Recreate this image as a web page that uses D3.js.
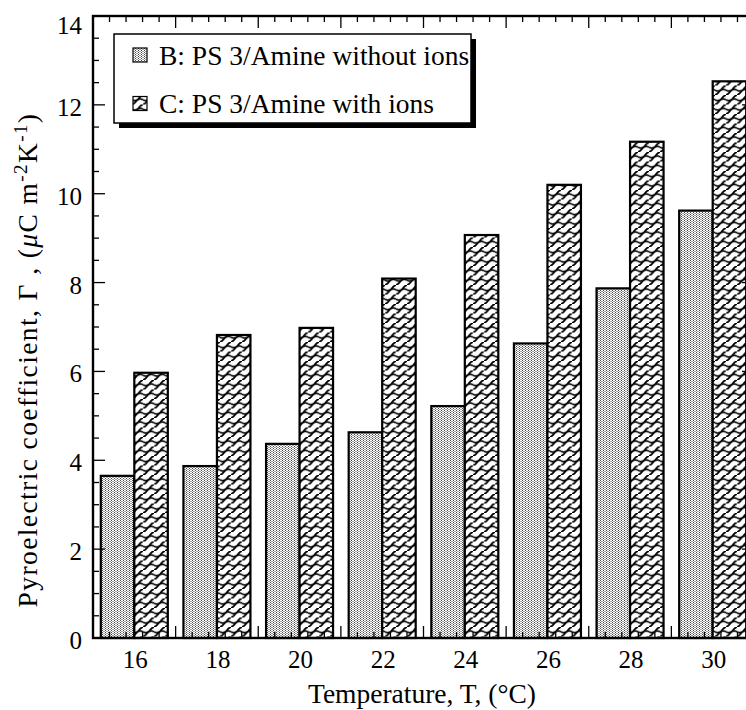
<!DOCTYPE html>
<html><head><meta charset="utf-8">
<script src="https://cdn.jsdelivr.net/npm/d3@7"></script>
<style>
html,body{margin:0;padding:0;background:#fff;overflow:hidden;}
text{font-family:"Liberation Serif","Times New Roman",serif;fill:#000;}
</style></head>
<body>
<script>
const categories = ["16","18","20","22","24","26","28","30"];
const seriesKeys = ["B","C"];
const seriesNames = ["B: PS 3/Amine without ions","C: PS 3/Amine with ions"];
const valuesB = [3.65,3.87,4.37,4.63,5.22,6.63,7.87,9.62];
const valuesC = [5.97,6.82,6.98,8.09,9.07,10.2,11.17,12.53];
const yTickValues = [0,2,4,6,8,10,12,14];
const xTitle = "Temperature, T, (°C)";

const W = 746, H = 710;
const plot = {left:93, top:16, right:754, bottom:638};

const svg = d3.select("body").append("svg").attr("width",W).attr("height",H);

const defs = svg.append("defs");
// stipple pattern for B
const pB = defs.append("pattern").attr("id","patB").attr("patternUnits","userSpaceOnUse")
  .attr("width",3).attr("height",2);
pB.append("rect").attr("width",3).attr("height",2).attr("fill","#fff");
pB.append("rect").attr("x",0).attr("y",0).attr("width",1).attr("height",1).attr("fill","#444");
pB.append("rect").attr("x",1.5).attr("y",1).attr("width",1).attr("height",1).attr("fill","#444");
// brick/weave pattern for C
const pC = defs.append("pattern").attr("id","patC").attr("patternUnits","userSpaceOnUse")
  .attr("width",11).attr("height",9.5);
pC.append("rect").attr("width",11).attr("height",9.5).attr("fill","#fff");
pC.append("path").attr("d","M0,9.5 C2.5,9 3.5,7 5.5,4.75 S8.5,0.5 11,0")
  .attr("fill","none").attr("stroke","#000").attr("stroke-width",1.7);
pC.append("path").attr("d","M5.5,4.75 Q8.5,3 11,4.75 M0,4.75 Q2.5,6.5 5.5,4.75")
  .attr("fill","none").attr("stroke","#000").attr("stroke-width",1.5);

const x0 = d3.scaleBand().domain(categories).range([plot.left, plot.right]).padding(0);
const x1 = d3.scaleBand().domain(seriesKeys).range([0, x0.bandwidth()]).paddingInner(0).paddingOuter(0.233);
const y = d3.scaleLinear().domain([0,14]).range([plot.bottom, plot.top]);

const rows = categories.map((c,i)=>({cat:c, B:valuesB[i], C:valuesC[i]}));

// bars
const g = svg.append("g");
rows.forEach(r=>{
  seriesKeys.forEach(k=>{
    g.append("rect")
      .attr("x", x0(r.cat)+x1(k))
      .attr("y", y(r[k]))
      .attr("width", x1.bandwidth())
      .attr("height", y(0)-y(r[k]))
      .attr("fill", k==="B" ? "url(#patB)" : "url(#patC)")
      .attr("stroke","#000").attr("stroke-width",2.2);
  });
});

// frame
svg.append("rect").attr("x",plot.left).attr("y",plot.top)
  .attr("width",plot.right-plot.left).attr("height",plot.bottom-plot.top)
  .attr("fill","none").attr("stroke","#000").attr("stroke-width",2.4);

// x ticks (band boundaries major, 4 minor)
const bw = x0.bandwidth();
const xt = svg.append("g").attr("stroke","#000").attr("stroke-width",1.3);
categories.forEach(c=>{
  const s = x0(c);
  for(let k=1;k<=5;k++){
    const xx = s + k*bw/5;
    const len = (k===5)?12:6;
    xt.append("line").attr("x1",xx).attr("x2",xx).attr("y1",plot.bottom).attr("y2",plot.bottom-len);
    xt.append("line").attr("x1",xx).attr("x2",xx).attr("y1",plot.top).attr("y2",plot.top+len);
  }
});
// x labels
svg.append("g").selectAll("text").data(categories).join("text")
  .attr("x", d=>x0(d)+bw/2+1).attr("y", 668)
  .attr("text-anchor","middle").attr("font-size",25).text(d=>d);

// y ticks
const yt = svg.append("g").attr("stroke","#000").attr("stroke-width",1.3);
d3.range(0,14.001,0.5).forEach(v=>{
  const major = Math.abs(v/2-Math.round(v/2))<1e-6;
  const len = major?12:6;
  yt.append("line").attr("x1",plot.left).attr("x2",plot.left+len).attr("y1",y(v)).attr("y2",y(v));
  yt.append("line").attr("x1",plot.right).attr("x2",plot.right-len).attr("y1",y(v)).attr("y2",y(v));
});
svg.append("g").selectAll("text").data(yTickValues).join("text")
  .attr("x",82).attr("y",d=>Math.max(y(d)+11,34))
  .attr("text-anchor","end").attr("font-size",25).text(d=>d);

// axis titles
svg.append("text").attr("x",422).attr("y",703).attr("text-anchor","middle")
  .attr("font-size",27.5).text(xTitle);

const yl = svg.append("text").attr("transform","translate(37,360) rotate(-90)")
  .attr("text-anchor","middle").attr("font-size",27.5).attr("letter-spacing",1.4);
yl.append("tspan").text("Pyroelectric coefficient, Γ , (");
yl.append("tspan").attr("font-style","italic").text("μ");
yl.append("tspan").text("C m");
yl.append("tspan").attr("dy",-10).attr("font-size",19).text("-2");
yl.append("tspan").attr("dy",10).text("K");
yl.append("tspan").attr("dy",-10).attr("font-size",19).text("-1");
yl.append("tspan").attr("dy",10).text(")");

// legend
const lg = svg.append("g");
lg.append("rect").attr("x",119).attr("y",39).attr("width",357).attr("height",89).attr("fill","#000");
lg.append("rect").attr("x",114).attr("y",34).attr("width",357).attr("height",89)
  .attr("fill","#fff").attr("stroke","#000").attr("stroke-width",1.5);
seriesKeys.forEach((k,i)=>{
  lg.append("rect").attr("x",133).attr("y",48+i*48.5).attr("width",14).attr("height",14)
    .attr("fill", k==="B"?"url(#patB)":"url(#patC)").attr("stroke","#000").attr("stroke-width",1.2);
  lg.append("text").attr("x",159).attr("y",65+i*48).attr("font-size",27.5).text(seriesNames[i]);
});
</script>
</body></html>
